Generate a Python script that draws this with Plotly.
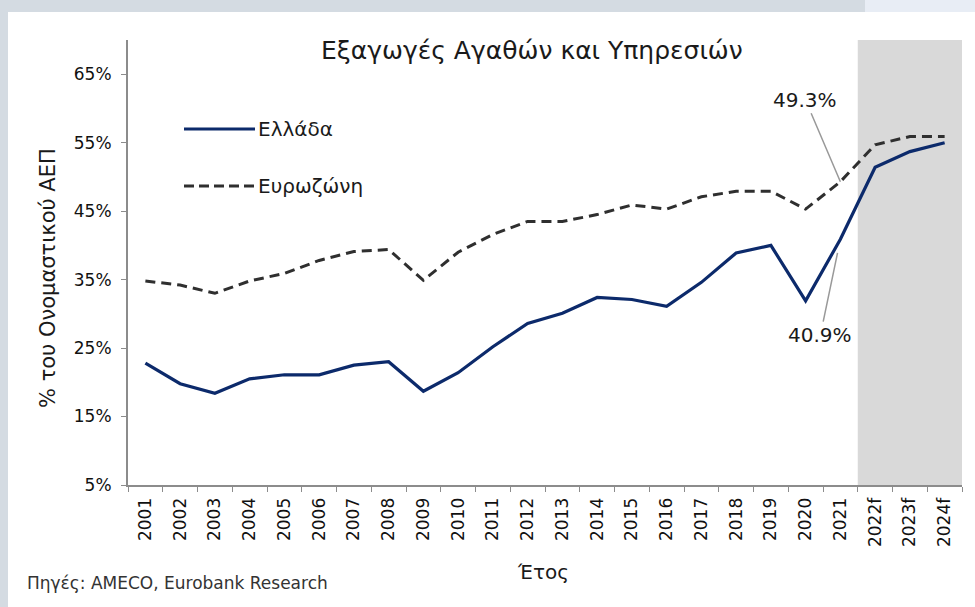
import plotly.graph_objects as go

years = ["2001", "2002", "2003", "2004", "2005", "2006", "2007", "2008", "2009", "2010",
         "2011", "2012", "2013", "2014", "2015", "2016", "2017", "2018", "2019", "2020",
         "2021", "2022f", "2023f", "2024f"]
greece = [22.8, 19.8, 18.4, 20.5, 21.1, 21.1, 22.5, 23.0, 18.7, 21.4,
          25.2, 28.6, 30.1, 32.4, 32.1, 31.1, 34.6, 38.9, 40.0, 31.9,
          40.9, 51.4, 53.7, 55.0]
eurozone = [34.8, 34.2, 33.0, 34.8, 35.9, 37.8, 39.1, 39.4, 34.9, 39.0,
            41.6, 43.5, 43.5, 44.5, 45.9, 45.3, 47.1, 47.9, 47.9, 45.3,
            49.3, 54.7, 55.9, 55.9]
yticks = [5, 15, 25, 35, 45, 55, 65]

FONT = "DejaVu Sans"
TXT = "#1a1a1a"
L, R, T, B = 128, 962, 40, 485
W, H = 975, 607


def px(x):
    return (x - L) / (R - L)


def py(y):
    return (B - y) / (B - T)


fig = go.Figure()
fig.add_trace(go.Scatter(x=years, y=eurozone, mode="lines", name="Ευρωζώνη",
                         line=dict(color="#2f2f2f", width=3, dash="10px,6px"),
                         showlegend=False))
fig.add_trace(go.Scatter(x=years, y=greece, mode="lines", name="Ελλάδα",
                         line=dict(color="#0c2a6b", width=3.2),
                         showlegend=False))

shapes = [
    # forecast shading
    dict(type="rect", xref="x", yref="paper", x0=20.5, x1=23.5, y0=0, y1=1,
         fillcolor="#d9d9d9", line=dict(width=0), layer="below"),
    # page chrome
    dict(type="rect", xref="paper", yref="paper", x0=px(0), x1=px(865), y0=py(12), y1=py(0),
         fillcolor="#d4dbe2", line=dict(width=0), layer="below"),
    dict(type="rect", xref="paper", yref="paper", x0=px(865), x1=px(W), y0=py(12), y1=py(0),
         fillcolor="#e8edf5", line=dict(width=0), layer="below"),
    dict(type="rect", xref="paper", yref="paper", x0=px(0), x1=px(8), y0=py(H), y1=py(0),
         fillcolor="#d4dbe2", line=dict(width=0), layer="below"),
    # legend samples
    dict(type="line", xref="paper", yref="paper", x0=px(184), x1=px(255), y0=py(129), y1=py(129),
         line=dict(color="#0c2a6b", width=3.2)),
    dict(type="line", xref="paper", yref="paper", x0=px(184), x1=px(255), y0=py(186), y1=py(186),
         line=dict(color="#2f2f2f", width=3, dash="10px,5px")),
]

i21 = years.index("2021")

annotations = [
    dict(text="Εξαγωγές Αγαθών και Υπηρεσιών", xref="paper", yref="paper",
         x=px(532), y=py(50), xanchor="center", yanchor="middle", showarrow=False,
         font=dict(family=FONT, size=25, color=TXT)),
    dict(text="Ελλάδα", xref="paper", yref="paper", x=px(256), y=py(129),
         xanchor="left", yanchor="middle",
         showarrow=False, font=dict(family=FONT, size=20, color=TXT)),
    dict(text="Ευρωζώνη", xref="paper", yref="paper", x=px(256), y=py(186),
         xanchor="left", yanchor="middle",
         showarrow=False, font=dict(family=FONT, size=20, color=TXT)),
    dict(text="49.3%", x=i21, y=eurozone[i21], xref="x", yref="y", ax=-35, ay=-82,
         showarrow=True, arrowhead=0, arrowwidth=1.5, arrowcolor="#999999",
         font=dict(family=FONT, size=20, color=TXT)),
    dict(text="40.9%", x=i21, y=greece[i21], xref="x", yref="y", ax=-20, ay=96,
         showarrow=True, arrowhead=0, arrowwidth=1.5, arrowcolor="#999999", standoff=14,
         font=dict(family=FONT, size=20, color=TXT)),
    dict(text="% του Ονομαστικού ΑΕΠ", xref="paper", yref="paper", x=px(48), y=py(278),
         xanchor="center", yanchor="middle", textangle=-90, showarrow=False,
         font=dict(family=FONT, size=21, color=TXT)),
    dict(text="Έτος", xref="paper", yref="paper", x=px(543), y=py(572),
         xanchor="center", yanchor="middle",
         showarrow=False, font=dict(family=FONT, size=20, color=TXT)),
    dict(text="Πηγές: AMECO, Eurobank Research", xref="paper", yref="paper",
         x=px(25), y=py(583), xanchor="left", yanchor="middle", showarrow=False,
         font=dict(family=FONT, size=17, color="#333333")),
]

fig.update_layout(
    width=W, height=H,
    margin=dict(l=L, r=W - R, t=T, b=H - B),
    paper_bgcolor="white", plot_bgcolor="white",
    font=dict(family=FONT, color=TXT),
    shapes=shapes, annotations=annotations,
    showlegend=False,
)
fig.update_xaxes(type="category", categoryorder="array", categoryarray=years,
                 range=[-0.5, 23.5], showgrid=False, showline=True, linecolor="#8c8c8c",
                 linewidth=2, ticks="outside", tickson="boundaries", ticklen=5,
                 tickcolor="#8c8c8c", tickangle=-90, ticklabelstandoff=4,
                 tickfont=dict(family=FONT, size=17, color="#111111"))
fig.update_yaxes(range=[5, 70], tickvals=yticks, ticktext=[f"{v}%" for v in yticks],
                 showgrid=False, zeroline=False, showline=True, linecolor="#8c8c8c",
                 linewidth=2, ticks="outside", ticklen=5, tickcolor="#8c8c8c",
                 ticklabelstandoff=6,
                 tickfont=dict(family=FONT, size=17, color="#111111"))

fig.write_html("out.html", config={"displayModeBar": False},
               post_script="document.body.style.margin='0';document.body.style.padding='0';")
